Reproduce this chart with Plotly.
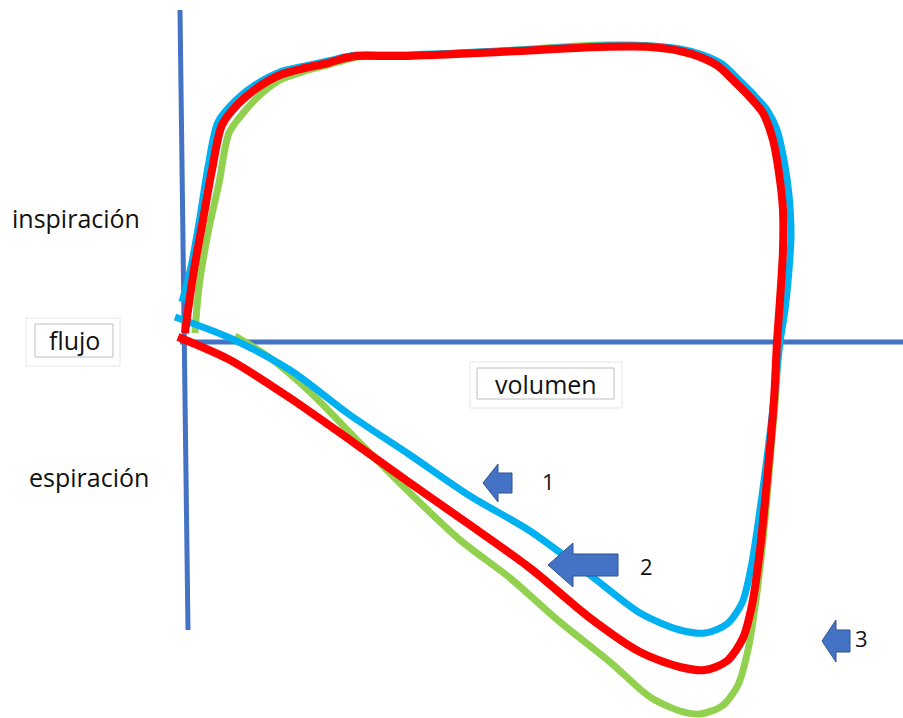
import plotly.graph_objects as go

W, H = 903, 718

# ---- data: volume (x) and flow (y), origin at the axes crossing ----
red_vol = [-5, 47, 107, 167, 227, 287, 347, 407, 457, 497, 522, 544, 560, 569, 577, 585, 591, 594,
           597, 600, 600, 596, 590, 580, 565, 550, 535, 517, 497, 467, 417, 317, 217, 174, 162, 145, 122, 97, 74, 55,
           39, 29, 20, 11, 3, 2]
red_flow = [5, -18, -56, -98, -141, -183, -226, -276, -310, -325, -328, -319, -296, -263, -208, -128, -58, 0,
            42, 92, 132, 169, 202, 229, 247, 262, 276, 285, 291, 295, 295, 290, 286, 286, 284, 279, 274, 267, 254, 238,
            217, 172, 122, 72, 17, 9]

blue_vol = [-8, 47, 107, 167, 227, 287, 347, 407, 457, 497, 522, 544, 559, 568, 577, 585, 592, 597,
            602, 606, 608, 606, 601, 594, 584, 570, 555, 539, 520, 497, 467, 417, 317, 217, 174, 162, 145, 122, 97, 72,
            53, 35, 25, 17, 8, -1]
blue_flow = [25, 4, -28, -73, -113, -154, -189, -233, -271, -288, -291, -282, -261, -226, -168, -108, -48, 0,
             32, 72, 107, 147, 182, 212, 232, 248, 263, 278, 287, 293, 296, 296, 291, 287, 287, 285, 281, 276, 270, 257,
             242, 220, 175, 125, 75, 40]

green_vol = [52, 87, 127, 177, 227, 277, 327, 377, 427, 467, 497, 517, 539, 555, 565, 573, 581, 588, 593, 595,
             597, 600, 600, 596, 590, 580, 565, 550, 535, 517, 497, 467, 417, 317, 217, 174, 162, 145, 122, 97, 77, 61,
             46, 36, 25, 16, 12]
green_flow = [6, -16, -50, -101, -151, -198, -236, -280, -320, -355, -369, -372, -364, -343, -308, -258, -188, -108,
              -48, 0, 42, 92, 132, 169, 202, 229, 247, 262, 276, 286, 292, 296, 297, 291, 286, 285, 282, 277, 271, 262,
              247, 230, 209, 159, 109, 55, 9]

side_labels = ["inspiración", "espiración"]
box_labels = ["flujo", "volumen"]
arrow_labels = ["1", "2", "3"]

AXIS = "#4472C4"

fig = go.Figure()

# axes drawn as lines in data space
fig.add_shape(type="line", x0=-3, y0=332, x1=5, y1=-288, line=dict(color=AXIS, width=5), layer="below")
fig.add_shape(type="line", x0=-3, y0=0, x1=720, y1=0, line=dict(color=AXIS, width=5), layer="below")

spl = dict(shape="spline", smoothing=0.8)
fig.add_trace(go.Scatter(x=green_vol, y=green_flow, mode="lines",
                         line=dict(color="#92D050", width=7, **spl), hoverinfo="skip"))
fig.add_trace(go.Scatter(x=blue_vol, y=blue_flow, mode="lines",
                         line=dict(color="#00B0F0", width=7, **spl), hoverinfo="skip"))
fig.add_trace(go.Scatter(x=red_vol, y=red_flow, mode="lines",
                         line=dict(color="#FF0000", width=8, **spl), hoverinfo="skip"))


def px(x):
    return x / W


def py(y):
    return 1 - y / H


FONT = "Open Sans"
TXT = dict(family=FONT, size=25, color="#111")

# side labels
fig.add_annotation(x=px(76), y=py(218), xref="paper", yref="paper", text=side_labels[0], showarrow=False,
                   xanchor="center", yanchor="middle", font=TXT)
fig.add_annotation(x=px(89), y=py(477), xref="paper", yref="paper", text=side_labels[1], showarrow=False,
                   xanchor="center", yanchor="middle", font=TXT)

# boxed labels
boxes = [((26, 318, 120, 366), (35, 324, 113, 357), box_labels[0]),
         ((470, 362, 622, 408), (477, 368, 614, 399), box_labels[1])]
for outer, inner, txt in boxes:
    fig.add_shape(type="rect", xref="paper", yref="paper", x0=px(outer[0]), y0=py(outer[1]),
                  x1=px(outer[2]), y1=py(outer[3]), line=dict(color="#e4e4e4", width=1), fillcolor="white")
    fig.add_shape(type="rect", xref="paper", yref="paper", x0=px(inner[0]), y0=py(inner[1]),
                  x1=px(inner[2]), y1=py(inner[3]), line=dict(color="#bfbfbf", width=1), fillcolor="white")
    fig.add_annotation(x=px((inner[0] + inner[2]) / 2), y=py((inner[1] + inner[3]) / 2), xref="paper",
                       yref="paper", text=txt, showarrow=False, xanchor="center", yanchor="middle", font=TXT)

# block arrows pointing left: tip x, tip y, head base x, head half-height, shaft end x, shaft half-height, label x, y
arrows = [(483, 483, 498, 19, 512, 10, 548, 481),
          (548, 565, 573, 22, 618, 11, 646, 566),
          (822, 641, 836, 21, 850, 11, 861, 638)]
for (tx, ty, hx, hh, sx, sh, lx, ly), lab in zip(arrows, arrow_labels):
    pts = [(tx, ty), (hx, ty - hh), (hx, ty - sh), (sx, ty - sh), (sx, ty + sh), (hx, ty + sh), (hx, ty + hh)]
    path = "M " + " L ".join(f"{px(a):.5f},{py(b):.5f}" for a, b in pts) + " Z"
    fig.add_shape(type="path", xref="paper", yref="paper", path=path, fillcolor="#4472C4",
                  line=dict(color="#2F528F", width=1))
    fig.add_annotation(x=px(lx), y=py(ly), xref="paper", yref="paper", text=lab, showarrow=False,
                       xanchor="center", yanchor="middle", font=dict(family=FONT, size=22, color="#111"))

fig.update_layout(width=W, height=H, margin=dict(l=0, r=0, t=0, b=0), showlegend=False,
                  paper_bgcolor="white", plot_bgcolor="white",
                  xaxis=dict(range=[-183, 720], visible=False, fixedrange=True),
                  yaxis=dict(range=[-376, 342], visible=False, fixedrange=True))

fig.write_html("out.html", config={"displayModeBar": False},
               post_script="document.body.style.margin='0';document.body.style.overflow='hidden';")
